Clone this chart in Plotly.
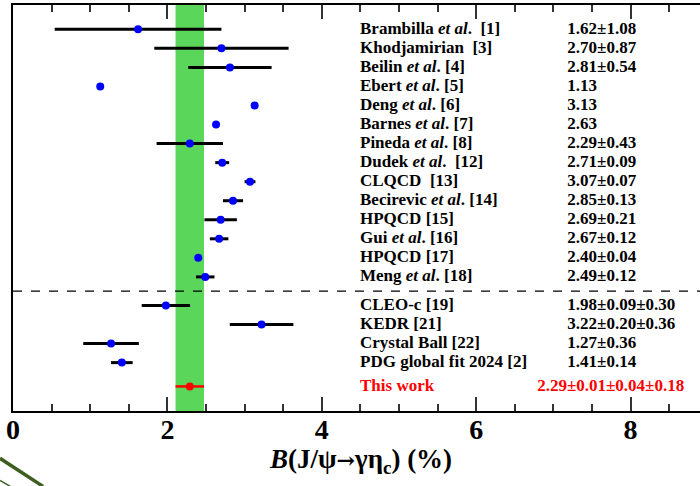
import math
import plotly.graph_objects as go

# ---------------- data ----------------
theory_labels = [
    "Brambilla <i>et al</i>.\u00a0 [1]", "Khodjamirian\u00a0 [3]", "Beilin <i>et al</i>. [4]",
    "Ebert <i>et al</i>. [5]", "Deng <i>et al</i>. [6]", "Barnes <i>et al</i>. [7]",
    "Pineda <i>et al</i>. [8]", "Dudek <i>et al</i>.\u00a0 [12]", "CLQCD\u00a0 [13]",
    "Becirevic <i>et al</i>. [14]", "HPQCD [15]", "Gui <i>et al</i>. [16]",
    "HPQCD [17]", "Meng <i>et al</i>. [18]",
]
theory_values = [1.62, 2.70, 2.81, 1.13, 3.13, 2.63, 2.29, 2.71, 3.07, 2.85, 2.69, 2.67, 2.40, 2.49]
theory_errors = [1.08, 0.87, 0.54, None, None, None, 0.43, 0.09, 0.07, 0.13, 0.21, 0.12, 0.04, 0.12]

exp_labels = ["CLEO-c [19]", "KEDR [21]", "Crystal Ball [22]", "PDG global fit 2024 [2]"]
exp_values = [1.98, 3.22, 1.27, 1.41]
exp_stat = [0.09, 0.20, 0.36, 0.14]
exp_syst = [0.30, 0.36, None, None]

this_label = "This work"
this_value = 2.29
this_errs = [0.01, 0.04, 0.18]

x_ticks = [0, 2, 4, 6, 8]

# ---------------- helpers ----------------
def fmt(v, errs):
    s = f"{v:.2f}"
    for e in errs:
        if e is not None:
            s += f"±{e:.2f}"
    return s

def quad(errs):
    es = [e for e in errs if e is not None]
    return math.sqrt(sum(e * e for e in es)) if es else 0.0

n_th = len(theory_values)
y_th = list(range(n_th))
y_exp = [n_th + 0.5 + i for i in range(len(exp_values))]
y_this = y_exp[-1] + 1.25
y_sep = n_th - 0.25

exp_tot = [quad([a, b]) for a, b in zip(exp_stat, exp_syst)]
this_tot = quad(this_errs)

x_label = 4.495
x_value = 7.18
x_value_this = 6.79

fig = go.Figure()

# theory points
fig.add_trace(go.Scatter(
    x=theory_values, y=y_th, mode="markers",
    marker=dict(color="#0000ff", size=8),
    error_x=dict(type="data", array=[e if e is not None else 0 for e in theory_errors],
                 visible=True, thickness=3, width=0, color="black"),
    showlegend=False, hoverinfo="skip"))

# experiment points
fig.add_trace(go.Scatter(
    x=exp_values, y=y_exp, mode="markers",
    marker=dict(color="#0000ff", size=8),
    error_x=dict(type="data", array=exp_tot, visible=True, thickness=3, width=0, color="black"),
    showlegend=False, hoverinfo="skip"))

# this work
fig.add_trace(go.Scatter(
    x=[this_value], y=[y_this], mode="markers",
    marker=dict(color="#ff0000", size=8),
    error_x=dict(type="data", array=[this_tot], visible=True, thickness=2.5, width=0, color="#ff0000"),
    showlegend=False, hoverinfo="skip"))

txtfont = dict(family="Liberation Serif", size=17, color="black", weight="bold")
redfont = dict(family="Liberation Serif", size=17, color="#ff0000", weight="bold")

all_labels = theory_labels + exp_labels
all_y = y_th + y_exp
all_vals = [fmt(v, [e]) for v, e in zip(theory_values, theory_errors)] + \
           [fmt(v, [a, b]) for v, a, b in zip(exp_values, exp_stat, exp_syst)]

fig.add_trace(go.Scatter(x=[x_label] * len(all_labels), y=all_y, mode="text",
                         text=all_labels, textposition="middle right", textfont=txtfont,
                         showlegend=False, hoverinfo="skip"))
fig.add_trace(go.Scatter(x=[x_value] * len(all_vals), y=all_y, mode="text",
                         text=all_vals, textposition="middle right", textfont=txtfont,
                         showlegend=False, hoverinfo="skip"))
fig.add_trace(go.Scatter(x=[x_label, x_value_this], y=[y_this, y_this], mode="text",
                         text=[this_label, fmt(this_value, this_errs)],
                         textposition="middle right", textfont=redfont,
                         showlegend=False, hoverinfo="skip"))

# green band
fig.add_shape(type="rect", xref="x", yref="paper",
              x0=this_value - this_tot, x1=this_value + this_tot, y0=0, y1=1,
              fillcolor="rgb(90,214,90)", line=dict(width=0), layer="below")
# dashed separator
fig.add_shape(type="line", xref="paper", yref="y", x0=0, x1=1, y0=y_sep, y1=y_sep,
              line=dict(color="black", width=1.2, dash="dash"))

# decorative artefact lines bottom-left
fig.add_shape(type="line", xref="paper", yref="paper", x0=-0.019, y0=-0.1166, x1=0.0437, y1=-0.1856,
              line=dict(color="#3d5e1f", width=3.5))
fig.add_shape(type="line", xref="paper", yref="paper", x0=-0.019, y0=-0.171, x1=-0.004, y1=-0.1856,
              line=dict(color="#3d5e1f", width=1.5))

# axis title
fig.add_annotation(xref="paper", yref="paper", x=(360 - 13) / 687, y=(411 - 461) / 406,
                   text="<i>B</i>(J/ψ<span style='font-family:DejaVu Serif;font-size:22px'>→</span>γη<sub>c</sub>) (%)",
                   showarrow=False,
                   font=dict(family="Liberation Serif", size=27, color="black", weight="bold"),
                   xanchor="center", yanchor="middle")

fig.update_layout(
    width=700, height=486,
    margin=dict(l=13, r=0, t=5, b=75, pad=0),
    plot_bgcolor="white", paper_bgcolor="white",
    xaxis=dict(range=[0, 687 / 77.2], tickvals=x_ticks, ticktext=[str(t) for t in x_ticks],
               ticks="inside", ticklen=14, tickwidth=1.5, tickcolor="#333",
               minor=dict(dtick=0.5, ticks="inside", ticklen=7, tickwidth=1.5, tickcolor="#333",
                          showgrid=False),
               showline=True, linecolor="black", linewidth=2, mirror="ticks",
               showgrid=False, zeroline=False, ticklabelstandoff=-8,
               tickfont=dict(family="Liberation Serif", size=28, color="black", weight="bold")),
    yaxis=dict(range=[20.04, -1.276], showticklabels=False, ticks="",
               showline=True, linecolor="black", linewidth=2, mirror=False,
               showgrid=False, zeroline=False),
)

fig.write_html("out.html")
